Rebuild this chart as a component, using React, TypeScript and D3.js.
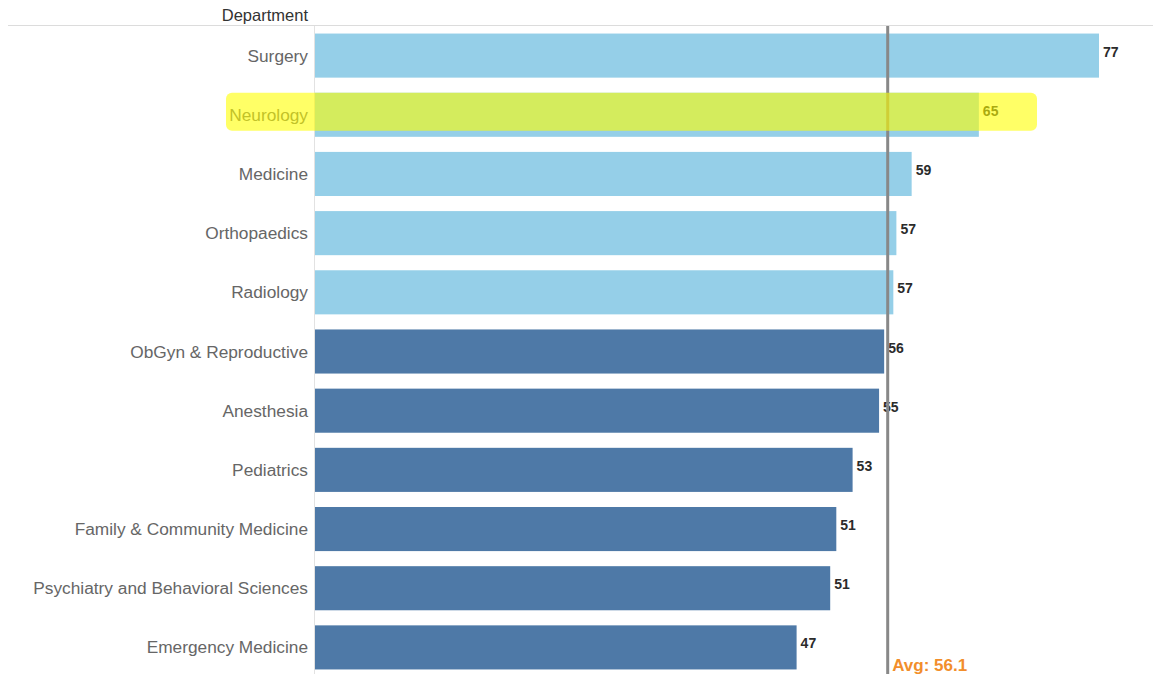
import React from "react";
import * as d3 from "d3";

const departments = [
  "Surgery",
  "Neurology",
  "Medicine",
  "Orthopaedics",
  "Radiology",
  "ObGyn & Reproductive",
  "Anesthesia",
  "Pediatrics",
  "Family & Community Medicine",
  "Psychiatry and Behavioral Sciences",
  "Emergency Medicine",
];
const scores = [77.0, 65.2, 58.6, 57.1, 56.8, 55.9, 55.4, 52.8, 51.2, 50.6, 47.3];
const aboveAverage = [true, true, true, true, true, false, false, false, false, false, false];
const averageValue = 56.1;
const highlighted = "Neurology";

const W = 1153;
const H = 674;
const X0 = 315;
const FONT = "'Liberation Sans', Arial, sans-serif";

export default function App() {
  const x = d3.scaleLinear().domain([0, 77]).range([X0, X0 + 784]);
  const y = d3
    .scaleBand<string>()
    .domain(departments)
    .range([26, 677])
    .paddingInner(0.255)
    .paddingOuter(0.1275);
  const bw = y.bandwidth();
  const hy = y(highlighted)!;

  return (
    <svg
      width={W}
      height={H}
      style={{ position: "absolute", left: 0, top: 0, background: "#fff" }}
      fontFamily={FONT}
    >
      <line x1={8} x2={W} y1={25.5} y2={25.5} stroke="#dcdcdc" strokeWidth={1} />
      <text x={308} y={21} textAnchor="end" fontSize={16.5} fill="#333">
        Department
      </text>
      <line x1={X0 - 0.5} x2={X0 - 0.5} y1={26} y2={H} stroke="#e2e2e2" strokeWidth={1} />

      {departments.map((d, i) => (
        <g key={d}>
          <rect
            x={x(0)}
            y={y(d)!}
            width={x(scores[i]) - x(0)}
            height={bw}
            fill={aboveAverage[i] ? "#95cfe8" : "#4e79a7"}
          />
          <text
            x={308}
            y={y(d)! + bw / 2 + 6}
            textAnchor="end"
            fontSize={17.3}
            fill="#666"
          >
            {d}
          </text>
          <text
            x={x(scores[i]) + 4}
            y={y(d)! + bw / 2 + 1}
            fontSize={14}
            fontWeight={600}
            fill="#2b2b2b"
          >
            {d3.format(".0f")(scores[i])}
          </text>
        </g>
      ))}

      <line
        x1={x(averageValue) + 1.5}
        x2={x(averageValue) + 1.5}
        y1={26}
        y2={H}
        stroke="#888"
        strokeWidth={3}
      />
      <text
        x={x(averageValue) + 6}
        y={671}
        fontSize={17}
        fontWeight="bold"
        fill="#f28e2b"
      >
        {`Avg: ${averageValue}`}
      </text>

      <rect
        x={226}
        y={hy}
        width={811}
        height={bw - 6}
        rx={6}
        fill="#ffff00"
        opacity={0.6}
      />
    </svg>
  );
}
